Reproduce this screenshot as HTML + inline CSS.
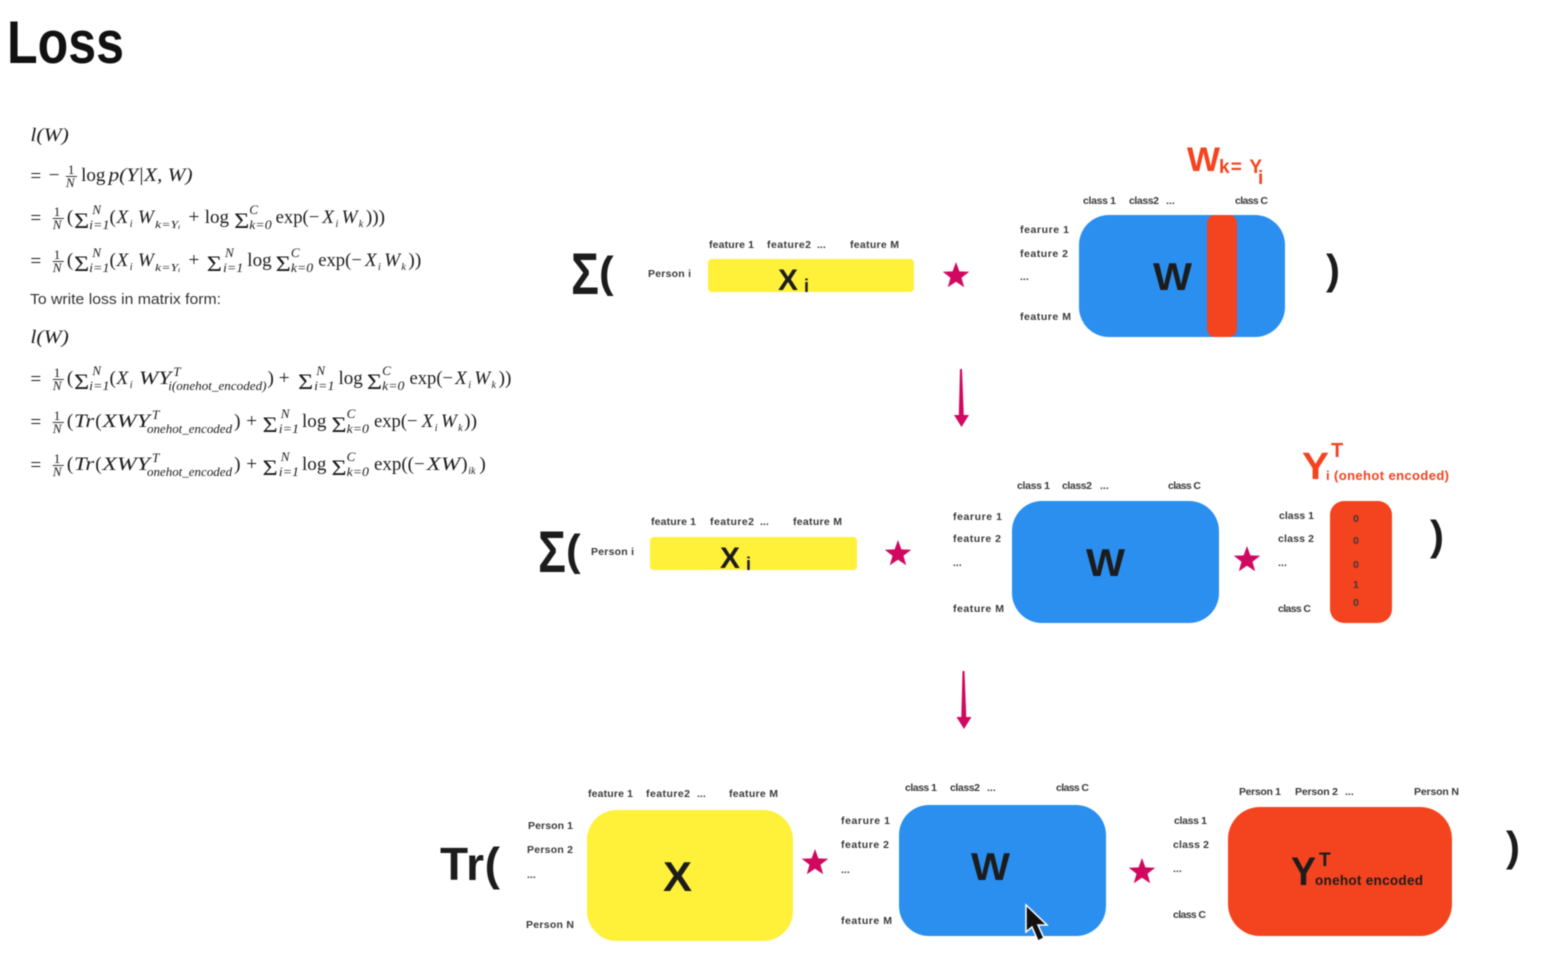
<!DOCTYPE html>
<html><head><meta charset="utf-8"><style>
html,body{margin:0;padding:0;background:#fff;width:1557px;height:957px;overflow:hidden}
svg{display:block;filter:blur(.5px)}
text{font-family:"Liberation Sans",sans-serif}
.l{font-size:10.5px;font-weight:bold;fill:#3a3a3a}
.m{font-family:"Liberation Serif",serif;font-size:19px;fill:#1c1c1c}
.i{font-style:italic}
.g{font-family:"Liberation Serif",serif;font-size:22px;fill:#1c1c1c}
.s{font-family:"Liberation Serif",serif;font-size:13px;fill:#1c1c1c;font-style:italic}
.t{font-family:"Liberation Serif",serif;font-size:10px;fill:#1c1c1c;font-style:italic}
.f{font-family:"Liberation Serif",serif;font-size:13px;fill:#1c1c1c}
.b{font-weight:bold;fill:#1c1c1c}
.r{font-weight:bold;fill:#f4431f}
</style></head><body>
<svg width="1557" height="957" viewBox="0 0 1557 957" xmlns="http://www.w3.org/2000/svg">
<defs>
<polygon id="star" points="0,-14 3.4,-4.6 13.3,-4.3 5.5,1.8 8.2,11.3 0,5.7 -8.2,11.3 -5.5,1.8 -13.3,-4.3 -3.4,-4.6" fill="#d0085f"/>
</defs>
<text x="7" y="63" font-size="60" font-weight="bold" fill="#111" textLength="117" lengthAdjust="spacingAndGlyphs">Loss</text>

<!-- Equations -->
<g transform="scale(1.0135,1)">
<text class="m i" x="30" y="141" textLength="38" lengthAdjust="spacingAndGlyphs">l(W)</text>

<text class="m" x="30" y="182" font-size="20">=</text><text class="m" x="48" y="181">−</text>
<text class="f" x="67" y="174">1</text><rect x="65" y="176" width="11" height=".9" fill="#222"/><text class="f i" x="65" y="187">N</text>
<text class="m" x="80" y="181" textLength="24" lengthAdjust="spacingAndGlyphs">log</text><text class="m i" x="107" y="181" textLength="83" lengthAdjust="spacingAndGlyphs">p(Y|X, W)</text>

<text class="m" x="30" y="224">=</text>
<text class="f" x="53" y="216">1</text><rect x="52" y="218" width="11" height=".9" fill="#222"/><text class="f i" x="52" y="229">N</text>
<text class="m" x="66" y="223">(</text><text class="g" x="73" y="228" textLength="15" lengthAdjust="spacingAndGlyphs">Σ</text><text class="s" x="91" y="214">N</text><text class="s" x="88" y="229" textLength="20" lengthAdjust="spacingAndGlyphs">i=1</text>
<text class="m" x="108" y="223">(</text><text class="m i" x="115" y="223">X</text><text class="t" x="128" y="227">i</text><text class="m i" x="136" y="223">W</text><text class="t" x="153" y="228" font-size="12" textLength="25" lengthAdjust="spacingAndGlyphs">k=Yᵢ</text>
<text class="m" x="186" y="223">+</text><text class="m" x="202" y="223" textLength="24" lengthAdjust="spacingAndGlyphs">log</text><text class="g" x="231" y="228" textLength="15" lengthAdjust="spacingAndGlyphs">Σ</text><text class="s" x="246" y="214">C</text><text class="s" x="246" y="229" textLength="22" lengthAdjust="spacingAndGlyphs">k=0</text>
<text class="m" x="272" y="223" textLength="43" lengthAdjust="spacingAndGlyphs">exp(−</text><text class="m i" x="318" y="223">X</text><text class="t" x="331" y="227">i</text><text class="m i" x="337" y="223">W</text><text class="t" x="354" y="227" font-size="12">k</text><text class="m" x="361" y="223">)))</text>

<text class="m" x="30" y="267">=</text>
<text class="f" x="53" y="259">1</text><rect x="52" y="261" width="11" height=".9" fill="#222"/><text class="f i" x="52" y="272">N</text>
<text class="m" x="66" y="266">(</text><text class="g" x="73" y="271" textLength="15" lengthAdjust="spacingAndGlyphs">Σ</text><text class="s" x="91" y="257">N</text><text class="s" x="88" y="272" textLength="20" lengthAdjust="spacingAndGlyphs">i=1</text>
<text class="m" x="108" y="266">(</text><text class="m i" x="115" y="266">X</text><text class="t" x="128" y="270">i</text><text class="m i" x="136" y="266">W</text><text class="t" x="153" y="271" font-size="12" textLength="25" lengthAdjust="spacingAndGlyphs">k=Yᵢ</text>
<text class="m" x="186" y="266">+</text><text class="g" x="204" y="271" textLength="15" lengthAdjust="spacingAndGlyphs">Σ</text><text class="s" x="222" y="257">N</text><text class="s" x="220" y="272" textLength="20" lengthAdjust="spacingAndGlyphs">i=1</text>
<text class="m" x="244" y="266" textLength="24" lengthAdjust="spacingAndGlyphs">log</text><text class="g" x="272" y="271" textLength="15" lengthAdjust="spacingAndGlyphs">Σ</text><text class="s" x="287" y="257">C</text><text class="s" x="287" y="272" textLength="22" lengthAdjust="spacingAndGlyphs">k=0</text>
<text class="m" x="314" y="266" textLength="43" lengthAdjust="spacingAndGlyphs">exp(−</text><text class="m i" x="360" y="266">X</text><text class="t" x="373" y="270">i</text><text class="m i" x="379" y="266">W</text><text class="t" x="396" y="270" font-size="12">k</text><text class="m" x="403" y="266">))</text>

<text class="m i" x="30" y="343" textLength="38" lengthAdjust="spacingAndGlyphs">l(W)</text>

<text class="m" x="30" y="385">=</text>
<text class="f" x="53" y="377">1</text><rect x="52" y="379" width="11" height=".9" fill="#222"/><text class="f i" x="52" y="390">N</text>
<text class="m" x="66" y="384">(</text><text class="g" x="73" y="389" textLength="15" lengthAdjust="spacingAndGlyphs">Σ</text><text class="s" x="91" y="375">N</text><text class="s" x="88" y="390" textLength="20" lengthAdjust="spacingAndGlyphs">i=1</text>
<text class="m" x="108" y="384">(</text><text class="m i" x="115" y="384">X</text><text class="t" x="128" y="388">i</text><text class="m i" x="137" y="384" textLength="32" lengthAdjust="spacingAndGlyphs">WY</text><text class="s" x="171" y="376">T</text><text class="s" x="166" y="390" textLength="97" lengthAdjust="spacingAndGlyphs">i(onehot_encoded)</text>
<text class="m" x="264" y="384">)</text><text class="m" x="275" y="384">+</text><text class="g" x="294" y="389" textLength="15" lengthAdjust="spacingAndGlyphs">Σ</text><text class="s" x="312" y="375">N</text><text class="s" x="310" y="390" textLength="20" lengthAdjust="spacingAndGlyphs">i=1</text>
<text class="m" x="334" y="384" textLength="24" lengthAdjust="spacingAndGlyphs">log</text><text class="g" x="362" y="389" textLength="15" lengthAdjust="spacingAndGlyphs">Σ</text><text class="s" x="377" y="375">C</text><text class="s" x="377" y="390" textLength="22" lengthAdjust="spacingAndGlyphs">k=0</text>
<text class="m" x="404" y="384" textLength="43" lengthAdjust="spacingAndGlyphs">exp(−</text><text class="m i" x="449" y="384">X</text><text class="t" x="462" y="388">i</text><text class="m i" x="468" y="384">W</text><text class="t" x="485" y="388" font-size="12">k</text><text class="m" x="492" y="384">))</text>

<text class="m" x="30" y="428">=</text>
<text class="f" x="53" y="420">1</text><rect x="52" y="422" width="11" height=".9" fill="#222"/><text class="f i" x="52" y="433">N</text>
<text class="m" x="66" y="427">(</text><text class="m i" x="73" y="427" textLength="20" lengthAdjust="spacingAndGlyphs">Tr</text><text class="m" x="94" y="427">(</text><text class="m i" x="101" y="427" textLength="47" lengthAdjust="spacingAndGlyphs">XWY</text><text class="s" x="150" y="419">T</text><text class="s" x="145" y="433" textLength="84" lengthAdjust="spacingAndGlyphs">onehot_encoded</text>
<text class="m" x="231" y="427">)</text><text class="m" x="243" y="427">+</text><text class="g" x="259" y="432" textLength="15" lengthAdjust="spacingAndGlyphs">Σ</text><text class="s" x="277" y="418">N</text><text class="s" x="275" y="433" textLength="20" lengthAdjust="spacingAndGlyphs">i=1</text>
<text class="m" x="298" y="427" textLength="24" lengthAdjust="spacingAndGlyphs">log</text><text class="g" x="327" y="432" textLength="15" lengthAdjust="spacingAndGlyphs">Σ</text><text class="s" x="342" y="418">C</text><text class="s" x="342" y="433" textLength="22" lengthAdjust="spacingAndGlyphs">k=0</text>
<text class="m" x="369" y="427" textLength="43" lengthAdjust="spacingAndGlyphs">exp(−</text><text class="m i" x="416" y="427">X</text><text class="t" x="429" y="431">i</text><text class="m i" x="435" y="427">W</text><text class="t" x="452" y="431" font-size="12">k</text><text class="m" x="458" y="427">))</text>

<text class="m" x="30" y="471">=</text>
<text class="f" x="53" y="463">1</text><rect x="52" y="465" width="11" height=".9" fill="#222"/><text class="f i" x="52" y="476">N</text>
<text class="m" x="66" y="470">(</text><text class="m i" x="73" y="470" textLength="20" lengthAdjust="spacingAndGlyphs">Tr</text><text class="m" x="94" y="470">(</text><text class="m i" x="101" y="470" textLength="47" lengthAdjust="spacingAndGlyphs">XWY</text><text class="s" x="150" y="462">T</text><text class="s" x="145" y="476" textLength="84" lengthAdjust="spacingAndGlyphs">onehot_encoded</text>
<text class="m" x="231" y="470">)</text><text class="m" x="243" y="470">+</text><text class="g" x="259" y="475" textLength="15" lengthAdjust="spacingAndGlyphs">Σ</text><text class="s" x="277" y="461">N</text><text class="s" x="275" y="476" textLength="20" lengthAdjust="spacingAndGlyphs">i=1</text>
<text class="m" x="298" y="470" textLength="24" lengthAdjust="spacingAndGlyphs">log</text><text class="g" x="327" y="475" textLength="15" lengthAdjust="spacingAndGlyphs">Σ</text><text class="s" x="342" y="461">C</text><text class="s" x="342" y="476" textLength="22" lengthAdjust="spacingAndGlyphs">k=0</text>
<text class="m" x="369" y="470" textLength="50" lengthAdjust="spacingAndGlyphs">exp((−</text><text class="m i" x="421" y="470" textLength="33" lengthAdjust="spacingAndGlyphs">XW</text><text class="m" x="455" y="470">)</text><text class="t" x="462" y="474" font-size="12">ik</text><text class="m" x="473" y="470">)</text>
</g>
<text x="30" y="304" font-size="15" fill="#333" textLength="191" lengthAdjust="spacingAndGlyphs">To write loss in matrix form:</text>

<!-- Row 1 -->
<text class="b" x="571" y="294" font-size="58" textLength="28" lengthAdjust="spacingAndGlyphs">Σ</text><text class="b" x="599" y="287" font-size="44">(</text>
<text class="l" x="648" y="277" textLength="43">Person  i</text>
<text class="l" x="709" y="248" textLength="45">feature 1</text><text class="l" x="767" y="248" textLength="44">feature2</text><text class="l" x="817" y="248">...</text><text class="l" x="850" y="248" textLength="49">feature M</text>
<rect x="708" y="259" width="206" height="33" rx="4" fill="#fff03a"/>
<text class="b" x="778" y="290" font-size="30" textLength="20" lengthAdjust="spacingAndGlyphs">X</text><text class="b" x="804" y="292" font-size="18">i</text>
<use href="#star" x="956" y="276"/>
<text class="r" x="1187" y="171" font-size="34" textLength="33" lengthAdjust="spacingAndGlyphs">W</text><text class="r" x="1219" y="173" font-size="19" textLength="43">k= Y</text><text class="r" x="1258" y="184" font-size="19">i</text>
<text class="l" x="1083" y="204" textLength="33">class 1</text><text class="l" x="1129" y="204" textLength="30">class2</text><text class="l" x="1166" y="204">...</text><text class="l" x="1235" y="204" textLength="33">class C</text>
<text class="l" x="1020" y="233" textLength="49">fearure  1</text><text class="l" x="1020" y="257" textLength="48">feature  2</text><text class="l" x="1020" y="280">...</text><text class="l" x="1020" y="320" textLength="51">feature  M</text>
<rect x="1079" y="215" width="206" height="122" rx="30" fill="#2b8ff0"/>
<rect x="1207" y="215" width="30" height="122" rx="8" fill="#f4431f"/>
<text class="b" x="1153" y="290" font-size="39" textLength="39" lengthAdjust="spacingAndGlyphs">W</text>
<text class="b" x="1326" y="284" font-size="42">)</text>

<!-- Arrow 1 -->
<polygon points="960,369 962,369 963.8,415 969,415 961.5,427 954,415 958.8,415" fill="#d0085f"/>

<!-- Row 2 -->
<text class="b" x="538" y="572" font-size="58" textLength="28" lengthAdjust="spacingAndGlyphs">Σ</text><text class="b" x="566" y="565" font-size="44">(</text>
<text class="l" x="591" y="555" textLength="43">Person  i</text>
<text class="l" x="651" y="525" textLength="45">feature 1</text><text class="l" x="710" y="525" textLength="44">feature2</text><text class="l" x="760" y="525">...</text><text class="l" x="793" y="525" textLength="49">feature M</text>
<rect x="650" y="537" width="207" height="33" rx="4" fill="#fff03a"/>
<text class="b" x="720" y="568" font-size="30" textLength="20" lengthAdjust="spacingAndGlyphs">X</text><text class="b" x="746" y="570" font-size="18">i</text>
<use href="#star" x="898" y="554"/>
<text class="l" x="1017" y="489" textLength="33">class 1</text><text class="l" x="1062" y="489" textLength="30">class2</text><text class="l" x="1100" y="489">...</text><text class="l" x="1168" y="489" textLength="33">class C</text>
<text class="l" x="953" y="520" textLength="49">fearure  1</text><text class="l" x="953" y="542" textLength="48">feature  2</text><text class="l" x="953" y="566">...</text><text class="l" x="953" y="612" textLength="51">feature  M</text>
<rect x="1012" y="501" width="207" height="122" rx="30" fill="#2b8ff0"/>
<text class="b" x="1086" y="576" font-size="39" textLength="39" lengthAdjust="spacingAndGlyphs">W</text>
<use href="#star" x="1247" y="560"/>
<text class="r" x="1302" y="479" font-size="38" textLength="27" lengthAdjust="spacingAndGlyphs">Y</text><text class="r" x="1331" y="457" font-size="20">T</text><text class="r" x="1326" y="480" font-size="13" textLength="123">i (onehot encoded)</text>
<text class="l" x="1279" y="519" textLength="35">class  1</text><text class="l" x="1278" y="542" textLength="36">class  2</text><text class="l" x="1278" y="566">...</text><text class="l" x="1278" y="612" textLength="33">class C</text>
<rect x="1330" y="501" width="62" height="122" rx="14" fill="#f4431f"/>
<text class="l" x="1353" y="522">0</text><text class="l" x="1353" y="544">0</text><text class="l" x="1353" y="568">0</text><text class="l" x="1353" y="588">1</text><text class="l" x="1353" y="606">0</text>
<text class="b" x="1430" y="550" font-size="42">)</text>

<!-- Arrow 2 -->
<polygon points="962.5,671 964.5,671 966.3,717 971.5,717 964,729 956.5,717 961.3,717" fill="#d0085f"/>

<!-- Row 3 -->
<text class="b" x="440" y="880" font-size="46" textLength="60">Tr(</text>
<text class="l" x="588" y="797" textLength="45">feature 1</text><text class="l" x="646" y="797" textLength="44">feature2</text><text class="l" x="697" y="797">...</text><text class="l" x="729" y="797" textLength="49">feature M</text>
<text class="l" x="528" y="829" textLength="45">Person  1</text><text class="l" x="527" y="853" textLength="46">Person  2</text><text class="l" x="527" y="878">...</text><text class="l" x="526" y="928" textLength="48">Person  N</text>
<rect x="587" y="810" width="206" height="131" rx="30" fill="#fff03a"/>
<text class="b" x="663" y="891" font-size="42" textLength="29" lengthAdjust="spacingAndGlyphs">X</text>
<use href="#star" x="815" y="863"/>
<text class="l" x="905" y="791" textLength="32">class 1</text><text class="l" x="950" y="791" textLength="30">class2</text><text class="l" x="987" y="791">...</text><text class="l" x="1056" y="791" textLength="33">class C</text>
<text class="l" x="841" y="824" textLength="49">fearure  1</text><text class="l" x="841" y="848" textLength="48">feature  2</text><text class="l" x="841" y="873">...</text><text class="l" x="841" y="924" textLength="51">feature  M</text>
<rect x="899" y="805" width="207" height="131" rx="30" fill="#2b8ff0"/>
<text class="b" x="971" y="880" font-size="39" textLength="39" lengthAdjust="spacingAndGlyphs">W</text>
<use href="#star" x="1142" y="872"/>
<text class="l" x="1239" y="795" textLength="42">Person 1</text><text class="l" x="1295" y="795" textLength="43">Person 2</text><text class="l" x="1345" y="795">...</text><text class="l" x="1414" y="795" textLength="45">Person N</text>
<text class="l" x="1174" y="824" textLength="33">class 1</text><text class="l" x="1173" y="848" textLength="36">class  2</text><text class="l" x="1173" y="872">...</text><text class="l" x="1173" y="918" textLength="33">class C</text>
<rect x="1228" y="807" width="224" height="129" rx="32" fill="#f4431f"/>
<text class="b" x="1291" y="885" font-size="40" textLength="25" lengthAdjust="spacingAndGlyphs">Y</text><text class="b" x="1319" y="866" font-size="19">T</text><text class="b" x="1315" y="885" font-size="13.5" textLength="108">onehot encoded</text>
<text class="b" x="1506" y="861" font-size="42">)</text>

<!-- Cursor -->
<polygon points="1026,905 1026,932 1032,927 1038,941 1044,938 1038,925 1047,925" fill="#111" stroke="#fff" stroke-width="1.5"/>
</svg>
</body></html>
